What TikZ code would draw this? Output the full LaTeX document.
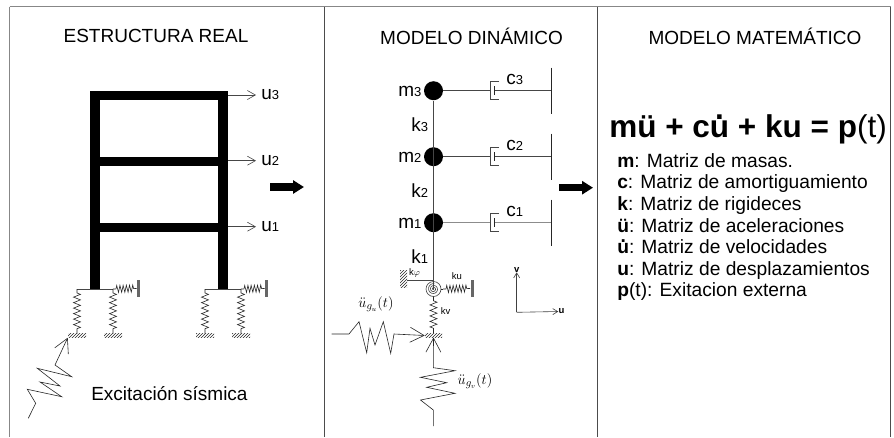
\documentclass[tikz,border=0pt]{standalone}
\usepackage{amsmath,amssymb}
\usepackage{fontspec}
\setmainfont{Liberation Sans}
\usepackage{xcolor}
\usetikzlibrary{arrows.meta,positioning,calc,patterns,decorations.pathmorphing}
\definecolor{qline}{RGB}{70,70,70}
\definecolor{qrule}{RGB}{135,135,135}
\newcommand{\dg}[1]{{\fontsize{13}{13}\selectfont #1}}
\newcommand{\ud}{\setbox0\hbox{u}\hbox to \wd0{\hss\raisebox{.56em}{.}\hss}\kern-\wd0 u}

\begin{document}
\begin{tikzpicture}[x=1pt,y=-1pt,semithick,
  lbl/.style={inner sep=0pt,anchor=west,font=\fontsize{19}{21}\selectfont},
  head/.style={inner sep=0pt,font=\fontsize{19}{21}\selectfont},
  tiny/.style={inner sep=0pt,font=\fontsize{9.5}{10}\selectfont},
  springz/.style={decorate,decoration={zigzag,amplitude=3.5pt,segment length=5.5pt,pre length=4pt,post length=3pt}},
  springh/.style={decorate,decoration={zigzag,amplitude=3.5pt,segment length=3.2pt,pre length=3pt,post length=2pt}},
  grnd/.style={inner sep=0pt,minimum width=18pt,minimum height=3.5pt,pattern=north east lines,pattern color=black!85},
  wallz/.style={inner sep=0pt,minimum width=3pt,minimum height=17pt,fill=black!60},
  mass/.style={circle,fill=black,inner sep=0pt,minimum size=19pt},
  barb/.style={-{Straight Barb[length=8pt,width=9pt]},qline},
  wave/.style={-{Straight Barb[length=14pt,width=15pt]},black!85},
  fat/.style={-{Triangle[length=11pt,width=13pt]},line width=7.5pt}]
\useasboundingbox (0,0) rectangle (894,437);
% panels
\draw[qrule,line width=1.3pt] (9.5,6.5) -- (891,6.5);
\draw[qrule,line width=1pt] (9.7,6.5) -- (9.7,437);
\draw[black!70] (324.5,6.5) -- (324.5,437);
\draw[black!70,line width=.8pt] (597,6.5) -- (597,437);
\draw[black!70,line width=.8pt] (890.7,6.5) -- (890.7,437);
\node[head] (t1) at (156,36) {ESTRUCTURA REAL};
\node[head] (t2) at (471.5,36) {MODELO DINÁMICO};
\node[head] (t3) at (755,36) {MODELO MATEMÁTICO};
% frame
\fill (90,90.7) rectangle (228,99.5);
\fill (90,156.7) rectangle (228,165.7);
\fill (90,223) rectangle (228,231.7);
\fill (90,90.7) rectangle (100,289);
\fill (218,90.7) rectangle (228,289);
\foreach \i/\y in {3/95,2/160.7,1/226.7}{
  \coordinate (f\i) at (228,\y);
  \node[lbl] (u\i) at (261,\y) {u\dg{\i}};
  \draw[barb,shorten >=5pt] (f\i) -- (u\i.west);
}
% supports
\foreach \s/\x in {a/77,b/205}{
  \coordinate (p\s) at (\x,289);
  \coordinate (q\s) at (\x+36,289);
  \node[grnd] (gl\s) at (\x,335.7) {};
  \node[grnd] (gr\s) at (\x+36,335.7) {};
  \node[wallz] (w\s) at (\x+61.5,288.5) {};
  \draw[qline] (p\s) -- (q\s);
  \draw[black!85,springz] (p\s) -- (gl\s.north);
  \draw[black!85,springz] (q\s) -- (gr\s.north);
  \draw[black!85,springh] (q\s) -- (w\s.west);
}
\draw[wave] (28.3,418.3) -- (35.7,403.3) -- (27.3,389.3) -- (61.7,396.7) -- (40,382) -- (60,386) -- (37.3,368.3) -- (71.7,376.7) -- (55,365) -- (gla.south west);
\node[lbl] (ex) at (91,394) {Excitación sísmica};
\draw[fat] (270,187) -- (304,187);
% dynamic model
\coordinate (pv) at (433.5,289);
\foreach \i/\y/\g in {3/90.7/qline,2/156.7/qline,1/222.7/black!45}{
  \node[mass] (m\i) at (433.5,\y) {};
  \node[lbl,anchor=east] (lm\i) at ($(m\i.west)+(-2,1)$) {m\dg{\i}};
  \node[lbl] (lk\i) at (411,\y+34) {k\dg{\i}};
  \coordinate (w\i) at (551.3,\y);
  \coordinate (d\i) at (490,\y);
  \node[lbl] (lc\i) at (506,\y-11) {c\dg{\i}};
  \draw[\g] (m\i) -- (d\i);
  \draw[\g] ($(d\i)+(4,0)$) -- (w\i);
  \draw[qline] ($(d\i)+(9,-9)$) -- ($(d\i)+(0,-9)$) -- ($(d\i)+(0,9)$) -- ($(d\i)+(9,9)$);
  \draw[black!85] ($(d\i)+(4,-4.5)$) -- ($(d\i)+(4,4.5)$);
  \draw[black!85,line width=.8pt] ($(w\i)+(0,-23)$) -- ($(w\i)+(0,23)$);
}
\draw[qline] (m3) -- (pv);
\node[circle,draw=black!75,inner sep=0pt,minimum size=15pt] (sp) at (pv) {};
\draw[black!75] plot[domain=0:1000,samples=70,smooth] ({433.5+5.5*\x/1000*cos(\x)},{289+5.5*\x/1000*sin(\x)});
\node[grnd,minimum width=7pt,minimum height=17pt] (wp) at (403.5,278.5) {};
\node[tiny] (lp) at (414.5,273) {k$\varphi$};
\draw[qline] (wp.east|-0,280) -- (433.5,280);
\node[wallz] (wu) at (472,288.5) {};
\node[tiny] (lu) at (457,276) {ku};
\draw[black!85] (sp.east) -- (443,289);
\draw[black!85,springh] (443,289) -- (wu.west);
\node[grnd,minimum width=17pt] (gc) at (433.5,335.5) {};
\draw[black!85,springz] (sp.south) -- (gc.north);
\node[tiny] (lv) at (445.5,310.7) {kv};
\draw[wave] (331.7,334) -- (349,334) -- (359,321.7) -- (366.7,352.7) -- (370,328.3) -- (375,345) -- (383.3,321.7) -- (390.7,353.3) -- (394,334) -- (gc.west);
\draw[wave] (433.3,426) -- (433.3,410) -- (420.5,400) -- (455,393.3) -- (426.7,387.3) -- (446.7,382.7) -- (420.5,377.3) -- (455,370.7) -- (433.3,367.7) -- (gc.south);
\node[inner sep=0pt,font=\fontsize{15}{16}\selectfont] (gu) at (376,304) {$\ddot{u}_{g_u}(t)$};
\node[inner sep=0pt,font=\fontsize{15}{16}\selectfont] (gv) at (475,381) {$\ddot{u}_{g_v}(t)$};
% axes
\coordinate (o) at (516.7,312.3);
\node[tiny] (av) at (516.7,269.5) {\textbf{v}};
\node[tiny] (au) at (561.5,311.5) {\textbf{u}};
\draw[-{Straight Barb[length=5pt,width=6pt]},black!75] (o) -- (av.south);
\draw[-{Straight Barb[length=5pt,width=6pt]},black!75] (o) -- (au.west);
\draw[fat] (559,187.7) -- (593,187.7);
% equations
\node[inner sep=0pt,anchor=base west,font=\fontsize{31.5}{34}\selectfont] (eq) at (609,137) {\textbf{mü + c\ud{} + ku = p}(t)};
\node[inner sep=0pt,anchor=north west,align=left,font=\fontsize{19.2}{21.6}\selectfont] (ley) at (617,153)
  {\textbf{m}: Matriz de masas.\\
   \textbf{c}: Matriz de amortiguamiento\\
   \textbf{k}: Matriz de rigideces\\
   \textbf{ü}: Matriz de aceleraciones\\
   \textbf{\ud}: Matriz de velocidades\\
   \textbf{u}: Matriz de desplazamientos\\
   \textbf{p}(t): Exitacion externa};
\end{tikzpicture}
\end{document}
